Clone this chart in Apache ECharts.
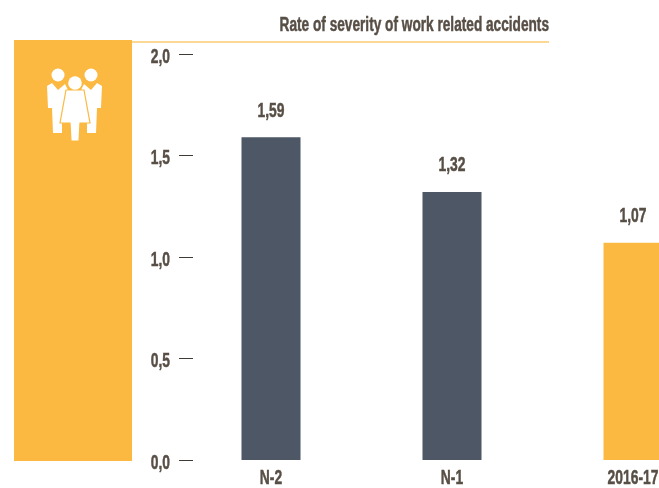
<!DOCTYPE html>
<html><head><meta charset="utf-8">
<script src="https://cdn.jsdelivr.net/npm/echarts@6/dist/echarts.min.js"></script>
<style>html,body{margin:0;padding:0;background:#fff}#c{width:659px;height:488px}</style>
</head><body><div id="c"></div>
<script>
const categories = ['N-2', 'N-1', '2016-17'];
const values = [1.59, 1.32, 1.07];
const barColors = ['#4d5766', '#4d5766', '#fbb941'];
const yTicks = { min: 0, max: 2, interval: 0.5 };
const titleText = 'Rate of severity of work related accidents';
const font = '"Liberation Sans",sans-serif';
const ink = '#574e45';
const condense = 0.66;
const heavy = { textBorderColor: ink, textBorderWidth: 0.5 };
const chart = echarts.init(document.getElementById('c'), null, { renderer: 'canvas' });
const white = { fill: '#fff' };
chart.setOption({
  animation: false,
  backgroundColor: '#fff',
  grid: { left: 180.5, top: 54, width: 543, height: 406, containLabel: false, outerBoundsMode: 'none' },
  xAxis: {
    type: 'category', data: categories,
    axisLine: { show: false }, axisTick: { show: false },
    axisLabel: { margin: 8, fontFamily: font, fontWeight: 'bold', fontSize: 21, color: ink, interval: 0, ...heavy }
  },
  yAxis: {
    type: 'value', min: yTicks.min, max: yTicks.max, interval: yTicks.interval, offset: 1.5,
    axisLine: { show: false }, splitLine: { show: false },
    axisTick: { show: true, inside: true, length: 14, lineStyle: { color: '#3f3a35', width: 1 } },
    axisLabel: { margin: 9, fontFamily: font, fontWeight: 'bold', fontSize: 21, color: ink, ...heavy,
      formatter: v => v.toFixed(1).replace('.', ',') }
  },
  series: [{
    type: 'bar', barWidth: 59, clip: false,
    data: values.map((v, i) => ({ value: v, itemStyle: { color: barColors[i] } })),
    label: { show: true, position: 'top', distance: 16, fontFamily: font, fontWeight: 'bold', fontSize: 21, color: ink, ...heavy,
      formatter: p => p.value.toFixed(2).replace('.', ',') }
  }],
  graphic: [
    { type: 'rect', z: 0, shape: { x: 14, y: 40, width: 118, height: 421 }, style: { fill: '#fbb941' } },
    { type: 'rect', z: 0, shape: { x: 132, y: 41, width: 417, height: 2 }, style: { fill: '#fbd896' } },
    { type: 'text', z: 5, x: 549, y: 25, style: { text: titleText, textAlign: 'right', textVerticalAlign: 'middle', font: 'bold 20.7px ' + font, fill: ink, stroke: ink, lineWidth: 0.5 } },
    { type: 'circle', z: 5, shape: { cx: 58, cy: 75, r: 6.5 }, style: white },
    { type: 'circle', z: 5, shape: { cx: 91, cy: 75, r: 6.5 }, style: white },
    { type: 'polygon', z: 5, shape: { points: [[47,86],[52,83],[58,90],[65,84],[68,90],[62,122],[62,133],[53,133],[52,108],[48,108]] }, style: white },
    { type: 'polygon', z: 5, shape: { points: [[102,86],[97,83],[91,90],[84,84],[81,90],[87,122],[87,133],[96,133],[97,108],[101,108]] }, style: white },
    { type: 'polygon', z: 6, shape: { points: [[66,90],[84,90],[90,123],[80,123],[79,141],[71,141],[70,123],[60,123]] }, style: { fill: '#fff', stroke: '#fbb941', lineWidth: 1.2 } },
    { type: 'circle', z: 7, shape: { cx: 75, cy: 83, r: 6.8 }, style: white }
  ]
});
// The installed fonts have no condensed face: narrow every text run horizontally about its anchor.
const zr = chart.getZr();
zr.flush();
zr.storage.getDisplayList(true).forEach(el => {
  if (el.type === 'tspan' && el.style && el.style.text) {
    el.originX = el.style.x || 0;
    el.originY = el.style.y || 0;
    el.scaleX = condense;
    if (/^\d,\d$/.test(el.style.text)) el.y = 3; // tick labels sit just below their ticks
    el.markRedraw();
  }
});
zr.flush();
</script></body></html>
